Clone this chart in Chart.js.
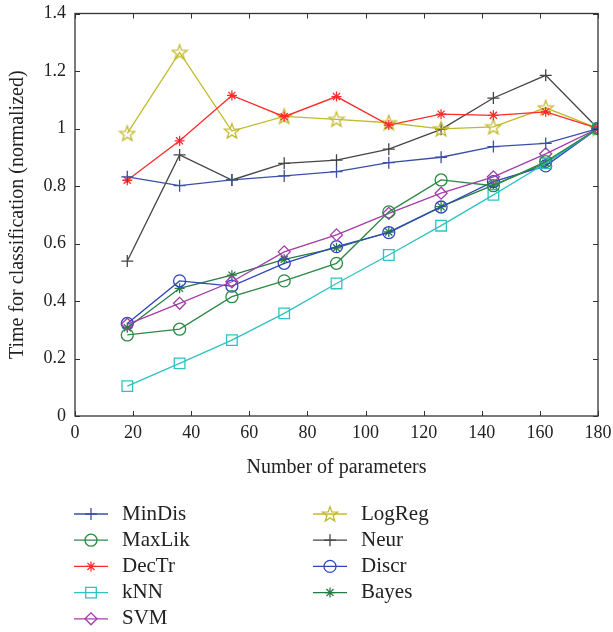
<!DOCTYPE html>
<html>
<head>
<meta charset="utf-8">
<script src="https://cdn.jsdelivr.net/npm/chart.js@4/dist/chart.umd.min.js"></script>
<style>
  html, body { margin: 0; padding: 0; background: #fff; }
  #wrap { width: 613px; height: 632px; position: relative; }
</style>
</head>
<body>
<div id="wrap"><canvas id="chart" width="613" height="632"></canvas></div>
<script>
// Data
const params = [18, 36, 54, 72, 90, 108, 126, 144, 162, 180];
const xTicks = [0, 20, 40, 60, 80, 100, 120, 140, 160, 180];
const yTicks = [0, 0.2, 0.4, 0.6, 0.8, 1, 1.2, 1.4];

const minDis = [0.832, 0.801, 0.821, 0.835, 0.850, 0.881, 0.900, 0.937, 0.948, 1.0];
const maxLik = [0.282, 0.302, 0.415, 0.470, 0.531, 0.710, 0.821, 0.801, 0.885, 1.0];
const decTr  = [0.820, 0.957, 1.115, 1.041, 1.111, 1.012, 1.050, 1.046, 1.058, 1.0];
const kNN    = [0.104, 0.183, 0.264, 0.357, 0.461, 0.560, 0.662, 0.769, 0.879, 1.0];
const svm    = [0.319, 0.392, 0.467, 0.571, 0.630, 0.705, 0.775, 0.832, 0.912, 1.0];
const logReg = [0.983, 1.265, 0.991, 1.042, 1.032, 1.020, 0.999, 1.006, 1.072, 1.0];
const neur   = [0.539, 0.908, 0.821, 0.879, 0.890, 0.928, 0.997, 1.106, 1.185, 1.0];
const discr  = [0.322, 0.470, 0.452, 0.531, 0.589, 0.638, 0.727, 0.815, 0.870, 1.0];
const bayes  = [0.307, 0.444, 0.490, 0.545, 0.585, 0.640, 0.728, 0.803, 0.879, 1.0];

const FONT = '"Liberation Serif", "DejaVu Serif", serif';

// Pentagram marker (Chart.js has no 5-point star)
function makePentagram(color) {
  const c = document.createElement('canvas');
  c.width = 18; c.height = 18;
  const g = c.getContext('2d');
  g.strokeStyle = color;
  g.lineWidth = 1.3;
  g.beginPath();
  for (let i = 0; i < 10; i++) {
    const r = i % 2 === 0 ? 8 : 3.3;
    const a = -Math.PI / 2 + i * Math.PI / 5;
    const px = 9 + r * Math.cos(a), py = 9.6 + r * Math.sin(a);
    if (i === 0) g.moveTo(px, py); else g.lineTo(px, py);
  }
  g.closePath();
  g.stroke();
  return c;
}

function series(label, data, color, style, radius) {
  return {
    label: label,
    data: data.map((v, i) => ({ x: params[i], y: v })),
    borderColor: color,
    backgroundColor: 'rgba(0,0,0,0)',
    pointBorderColor: color,
    pointBackgroundColor: 'rgba(0,0,0,0)',
    borderWidth: 1.3,
    pointBorderWidth: 1.3,
    pointStyle: style,
    pointRadius: radius,
    pointHoverRadius: radius,
    tension: 0,
    fill: false
  };
}

const datasets = [
  series('MinDis', minDis, '#3b4fa6', 'cross', 6),
  series('MaxLik', maxLik, '#2b8a45', 'circle', 6),
  series('DecTr', decTr, '#ff2b2b', 'star', 5),
  series('kNN', kNN, '#2ec2c2', 'rect', 7.5),
  series('SVM', svm, '#a43ca8', 'rectRot', 6),
  series('LogReg', logReg, '#c2ba2e', makePentagram('#c2ba2e'), 8),
  series('Neur', neur, '#454545', 'cross', 6),
  series('Discr', discr, '#2f45bc', 'circle', 6),
  series('Bayes', bayes, '#267a45', 'star', 5)
];

// Box frame with inward ticks on all four sides
const frameTicks = {
  id: 'frameTicks',
  afterDraw(chart) {
    const { ctx, chartArea: a, scales } = chart;
    ctx.save();
    ctx.strokeStyle = '#333';
    ctx.lineWidth = 1.3;
    ctx.strokeRect(a.left, a.top, a.right - a.left, a.bottom - a.top);
    ctx.lineWidth = 1;
    ctx.beginPath();
    xTicks.forEach(v => {
      const px = Math.round(scales.x.getPixelForValue(v)) + 0.5;
      ctx.moveTo(px, a.bottom); ctx.lineTo(px, a.bottom - 5);
      ctx.moveTo(px, a.top); ctx.lineTo(px, a.top + 5);
    });
    yTicks.forEach(v => {
      const py = Math.round(scales.y.getPixelForValue(v)) + 0.5;
      ctx.moveTo(a.left, py); ctx.lineTo(a.left + 5, py);
      ctx.moveTo(a.right, py); ctx.lineTo(a.right - 5, py);
    });
    ctx.stroke();
    ctx.restore();
  }
};

// Legend below the plot, two columns, line + marker
const lineLegend = {
  id: 'lineLegend',
  afterDraw(chart) {
    const ctx = chart.ctx;
    ctx.save();
    ctx.font = '21px ' + FONT;
    ctx.textBaseline = 'middle';
    chart.data.datasets.forEach((ds, i) => {
      const col = i < 5 ? 0 : 1;
      const row = i < 5 ? i : i - 5;
      const x0 = col === 0 ? 74 : 313;
      const y = 514 + row * 26.2;
      ctx.strokeStyle = ds.borderColor;
      ctx.lineWidth = 1.3;
      ctx.beginPath();
      ctx.moveTo(x0, y); ctx.lineTo(x0 + 34, y);
      ctx.stroke();
      ctx.fillStyle = 'rgba(0,0,0,0)';
      Chart.helpers.drawPoint(ctx, {
        pointStyle: ds.pointStyle,
        radius: ds.pointRadius,
        rotation: 0,
        borderWidth: ds.pointBorderWidth
      }, x0 + 17, y);
      ctx.fillStyle = '#222';
      ctx.fillText(ds.label, x0 + 48, y);
    });
    ctx.restore();
  }
};

// plot box: left 75, right 598, top 13.5, bottom 416 (canvas 613x632)
new Chart(document.getElementById('chart'), {
  type: 'line',
  data: { datasets: datasets },
  plugins: [frameTicks, lineLegend],
  options: {
    responsive: false,
    animation: false,
    layout: { padding: { left: 0, right: 15, top: 13.5, bottom: 146 } },
    plugins: { legend: { display: false }, tooltip: { enabled: false } },
    scales: {
      x: {
        type: 'linear',
        min: 0, max: 180,
        afterFit: s => { s.height = 70; s.paddingLeft = 0; s.paddingRight = 0; },
        afterBuildTicks: s => { s.ticks = xTicks.map(v => ({ value: v })); },
        grid: { display: false, drawTicks: false },
        border: { display: false },
        ticks: { color: '#222', font: { family: FONT, size: 18 }, padding: 6, maxRotation: 0, autoSkip: false },
        title: { display: true, text: 'Number of parameters', color: '#222', font: { family: FONT, size: 20 }, padding: { top: 4, bottom: 6.5 } }
      },
      y: {
        min: 0, max: 1.4,
        afterFit: s => { s.width = 75; s.paddingTop = 0; s.paddingBottom = 0; },
        afterBuildTicks: s => { s.ticks = yTicks.map(v => ({ value: v })); },
        grid: { display: false, drawTicks: false },
        border: { display: false },
        ticks: { color: '#222', font: { family: FONT, size: 18 }, padding: 9, callback: v => String(+v.toFixed(1)) },
        title: { display: true, text: 'Time for classification (normalized)', color: '#222', font: { family: FONT, size: 20 }, padding: { top: 6, bottom: 4 } }
      }
    }
  }
});
</script>
</body>
</html>
